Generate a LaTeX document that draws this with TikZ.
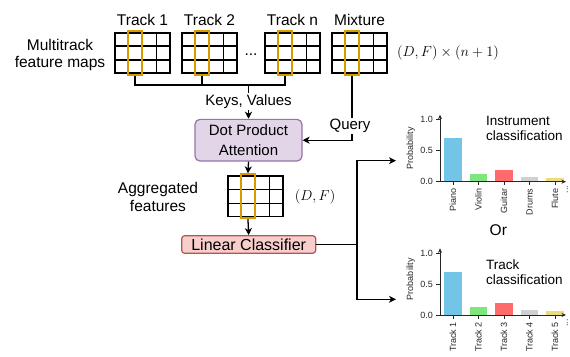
\documentclass[tikz,border=0pt]{standalone}
\usepackage{fontspec}
\setmainfont{Liberation Sans}
\usetikzlibrary{calc,arrows.meta}
\definecolor{orng}{HTML}{D79B00}
\definecolor{attnfill}{HTML}{E1D5E7}
\definecolor{attnstroke}{HTML}{9673A6}
\definecolor{linfill}{HTML}{F8CECC}
\definecolor{linstroke}{HTML}{B85450}
\definecolor{cpiano}{HTML}{72C5E6}
\definecolor{cviolin}{HTML}{7DE67D}
\definecolor{cguitar}{HTML}{FF6A6A}
\definecolor{cdrums}{HTML}{D0D0D0}
\definecolor{cflute}{HTML}{EBDD7A}
\definecolor{axcol}{HTML}{262626}
\newcommand\fbig{\fontsize{15.5}{17.5}\selectfont}
\newcommand\fmid{\fontsize{15}{19.3}\selectfont}
\newcommand\fsmall{\fontsize{13.5}{15}\selectfont}
\newcommand\ftiny{\fontsize{9}{10}\selectfont}
\newcommand\fmapgrid[1]{%
  \foreach \i in {1,2,3}
    \draw[gridl] ($(#1.north west)!\i/4!(#1.north east)$) -- ($(#1.south west)!\i/4!(#1.south east)$);
  \foreach \j in {1,2}
    \draw[gridl] ($(#1.north west)!\j/3!(#1.south west)$) -- ($(#1.north east)!\j/3!(#1.south east)$);
}
\begin{document}
\begin{tikzpicture}[x=1pt,y=-1pt,
  line/.style={line width=1.3pt, black},
  arr/.style={line, -{Stealth[length=7pt,width=7pt,inset=2pt]}},
  gridl/.style={line width=1.3pt, black},
  fmap/.style={draw, line width=1.3pt, minimum width=55pt, minimum height=40pt, inner sep=0pt},
  ocolumn/.style={draw=orng, line width=1.8pt, minimum width=13.75pt, minimum height=43.5pt, inner sep=0pt},
  lbl/.style={font=\fbig, inner sep=0pt},
  tag/.style={font=\fmid, fill=white, inner sep=1.5pt},
  attnbox/.style={draw=attnstroke, fill=attnfill, rounded corners=5pt, line width=1.2pt, minimum width=107pt, minimum height=41.7pt, align=center, font=\fmid, inner sep=0pt},
  linbox/.style={draw=linstroke, fill=linfill, rounded corners=3pt, line width=1.2pt, minimum width=134pt, minimum height=17.6pt, font=\fontsize{16}{18}\selectfont, inner sep=0pt},
  axl/.style={draw=axcol, line width=0.8pt},
  axarr/.style={axl, -{Stealth[length=4.5pt,width=4pt]}},
  xlab/.style={font=\ftiny, text=axcol, rotate=90, anchor=east, inner sep=0pt},
  ylab/.style={font=\ftiny, text=axcol, anchor=east, inner sep=0pt},
  ttl/.style={font=\fsmall, align=left, anchor=west, inner sep=0pt}
]
\useasboundingbox (0,0) rectangle (570,356);

% feature maps
\node[fmap] (t1) at (142.5,53) {};
\node[fmap] (t2) at (209.5,53) {};
\node[fmap] (tn) at (292.5,53) {};
\node[fmap] (mix) at (359.5,53) {};
\fmapgrid{t1}
\fmapgrid{t2}
\fmapgrid{tn}
\fmapgrid{mix}
\node[ocolumn] (t1c) at ($(t1.west)+(20.6,0)$) {};
\node[ocolumn] (t2c) at ($(t2.west)+(20.6,0)$) {};
\node[ocolumn] (tnc) at ($(tn.west)+(20.6,0)$) {};
\node[ocolumn] (mixc) at ($(mix.west)+(20.6,0)$) {};

\node[lbl] (l1) at (142.5,20) {Track 1};
\node[lbl] (l2) at (209.5,20) {Track 2};
\node[lbl] (ln) at (292.5,20) {Track n};
\node[lbl] (lm) at (359.5,20) {Mixture};
\node[lbl, anchor=base] (dots) at (251,55) {...};
\node[lbl, align=center] (mfm) at (60,55.2) {Multitrack\\feature maps};
\node[inner sep=0pt, font=\fontsize{14.5}{16}\selectfont] (dim1) at (448,53) {$(D,F)\times(n+1)$};

% attention
\node[attnbox] (attn) at (248.5,140.2) {Dot Product\\Attention};
\coordinate (kv) at (248.5,85);
\draw[line] (t1c.south) |- (kv);
\draw[line] (t2c.south) |- (kv);
\draw[line] (tnc.south) |- (kv);
\draw[arr] (kv) -- (attn.north);
\node[tag] (kvl) at (248.5,101.5) {Keys, Values};
\draw[arr] (mixc.south) |- (attn.east);
\node[tag] (ql) at (350,126) {Query};

% aggregated
\node[fmap, minimum height=40.5pt] (agg) at (255.5,196.3) {};
\fmapgrid{agg}
\node[ocolumn, minimum height=44pt] (aggc) at ($(agg.west)+(20.6,0)$) {};
\draw[arr] (attn.south) -- (aggc.north);
\node[lbl, align=center] (aggl) at (158,197) {Aggregated\\features};
\node[inner sep=0pt, font=\fontsize{14.5}{16}\selectfont] (dim2) at (315,197) {$(D,F)$};

% classifier
\node[linbox] (lin) at (248.7,244.5) {Linear Classifier};
\draw[arr] (aggc.south) -- (lin.north);
\coordinate (jn) at (357,244.5);
\coordinate (ch1) at (396,160.7);
\coordinate (ch2) at (396,299.3);
\draw[line] (lin.east) -- (jn);
\draw[arr] (jn) |- (ch1);
\draw[arr] (jn) |- (ch2);

% top chart
\begin{scope}[shift={(440,181.7)}]
  \foreach \c/\v/\col/\lab [count=\k] in {13/0.70/cpiano/Piano,38.5/0.12/cviolin/Violin,64/0.19/cguitar/Guitar,89.5/0.07/cdrums/Drums,115/0.055/cflute/Flute}{
    \fill[\col] ({\c-8.75},0) rectangle ({\c+8.75},{-\v*62.4});
    \draw[axl] (\c,0) -- (\c,3.5);
    \node[xlab] (ia\k) at (\c,7) {\lab};
  }
  \foreach \t/\y [count=\k] in {0.0/0,0.5/-31.2,1.0/-62.4}{
    \draw[axl] (-4,\y) -- (0,\y);
    \node[ylab] (iy\k) at (-7,\y) {\t};
  }
  \draw[axarr] (0,0) -- (0,-67);
  \draw[axarr] (0,0) -- (126,0);
  \node[xlab] (idots) at (127.5,4) {...};
  \node[font=\ftiny, text=axcol, rotate=90, inner sep=0pt] (ip) at (-29.3,-33.4) {Probability};
\end{scope}
\node[ttl] (it) at (486,128.2) {Instrument\\classification};

\node[lbl] (or) at (498.3,230) {Or};

% bottom chart
\begin{scope}[shift={(440,315)}]
  \foreach \c/\v/\col/\lab [count=\k] in {13/0.70/cpiano/Track 1,38.5/0.125/cviolin/Track 2,64/0.20/cguitar/Track 3,89.5/0.08/cdrums/Track 4,115/0.07/cflute/Track 5}{
    \fill[\col] ({\c-8.75},0) rectangle ({\c+8.75},{-\v*61.7});
    \draw[axl] (\c,0) -- (\c,3.5);
    \node[xlab] (ta\k) at (\c,7) {\lab};
  }
  \foreach \t/\y [count=\k] in {0.0/0,0.5/-30.85,1.0/-61.7}{
    \draw[axl] (-4,\y) -- (0,\y);
    \node[ylab] (ty\k) at (-7,\y) {\t};
  }
  \draw[axarr] (0,0) -- (0,-66.7);
  \draw[axarr] (0,0) -- (126,0);
  \node[xlab] (tdots) at (127.5,4) {...};
  \node[font=\ftiny, text=axcol, rotate=90, inner sep=0pt] (tp) at (-29.3,-36) {Probability};
\end{scope}
\node[ttl] (tt) at (486,271.8) {Track\\classification};
\end{tikzpicture}
\end{document}
